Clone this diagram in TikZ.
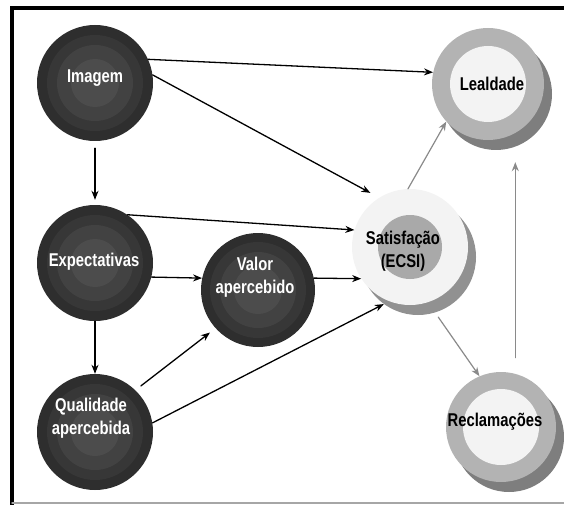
\documentclass[tikz,border=0pt]{standalone}
\usepackage{fontspec}
\newfontfamily\nodefont{Liberation Sans}[FakeStretch=0.8]
\usetikzlibrary{arrows.meta,shadows}
\definecolor{ringa}{HTML}{2E2E2E}
\definecolor{ringb}{HTML}{373737}
\definecolor{ringc}{HTML}{424242}
\definecolor{ringd}{HTML}{4C4C4C}
\definecolor{lightout}{HTML}{B3B3B3}
\definecolor{lightin}{HTML}{F3F3F3}
\definecolor{satin}{HTML}{A9A9A9}
\definecolor{shade}{HTML}{7E7E7E}
\definecolor{arrgray}{HTML}{8A8A8A}
\begin{document}
\begin{tikzpicture}[x=1pt,y=-1pt,line join=round,line cap=round,>={Stealth[length=9pt,width=7pt]},
	font=\nodefont\bfseries\fontsize{18.5}{23}\selectfont,
	dark/.style={circle,minimum size=116pt,inner sep=0pt,fill=ringa,
		path picture={\fill[ringb] (path picture bounding box.center) circle (48pt);
			\fill[ringc] (path picture bounding box.center) circle (38pt);
			\fill[ringd] (path picture bounding box.center) circle (24pt);}},
	light/.style={circle,minimum size=112pt,inner sep=0pt,fill=lightout,
		drop shadow={shadow xshift=8pt,shadow yshift=-10pt,fill=shade,opacity=1},
		path picture={\fill[lightin] (path picture bounding box.center) circle (38pt);}},
	satbox/.style={circle,minimum size=116pt,inner sep=0pt,fill=lightin,
		drop shadow={shadow xshift=8pt,shadow yshift=-10pt,fill=shade!85,opacity=1},
		path picture={\fill[satin] (path picture bounding box.center) circle (32pt);}},
	whitetext/.style={text=white,align=center},
	blacktext/.style={text=black,align=center},
	arr/.style={->,line width=1.3pt,black},
	grayarr/.style={->,line width=1.2pt,arrgray}]
	\useasboundingbox (0,0) rectangle (564,505);
	% frame
	\draw[line width=4pt,line cap=rect] (12,8)--(564,8) (12,8)--(12,505);
	\draw[line width=1.5pt,gray!70] (12,503)--(564,503);
	% nodes
	\node[dark,label={[whitetext,yshift=5pt]center:Imagem}] (imagem) at (95,83) {};
	\node[dark,label={[whitetext,yshift=1pt,xshift=-1pt]center:Expectativas}] (expect) at (95,263) {};
	\node[dark,label={[whitetext,yshift=14pt,xshift=-4pt]center:Qualidade\\apercebida}] (qual) at (95,432) {};
	\node[dark,minimum size=114pt,label={[whitetext,yshift=13pt,xshift=-3pt]center:Valor\\apercebido}] (valor) at (258,290) {};
	\node[satbox,label={[blacktext,yshift=-4pt,xshift=-7pt]center:Satisfação\\(ECSI)}] (sat) at (410,247) {};
	\node[light,label={[blacktext,xshift=4pt]center:Lealdade}] (leal) at (488,84) {};
	\node[light,minimum size=110pt,label={[blacktext,yshift=5pt,xshift=-6pt]center:Reclamações}] (recl) at (501,427) {};
	% connectors
	\draw[arr] (imagem.24)--(leal.168);
	\draw[arr,shorten >=10pt] (imagem.8)--(sat.122);
	\draw[arr,shorten <=7pt,shorten >=5pt] (imagem)--(expect);
	\draw[arr] (expect.56)--(sat.163);
	\draw[arr] (expect.346)--(valor.168);
	\draw[arr] (expect)--(qual);
	\draw[arr] (valor.12)--(sat.213);
	\draw[arr,shorten <=7pt,shorten >=7pt] (qual.46)--(valor.222);
	\draw[arr,shorten >=6pt] (qual.9)--(sat.249);
	\draw[grayarr] (sat.92)--(leal.222);
	\draw[grayarr,shorten <=18pt] (sat.288)--(recl.113);
	\draw[grayarr,shorten <=16pt,shorten >=22pt] (recl.75)--(recl.75 |- leal.south);
\end{tikzpicture}
\end{document}
